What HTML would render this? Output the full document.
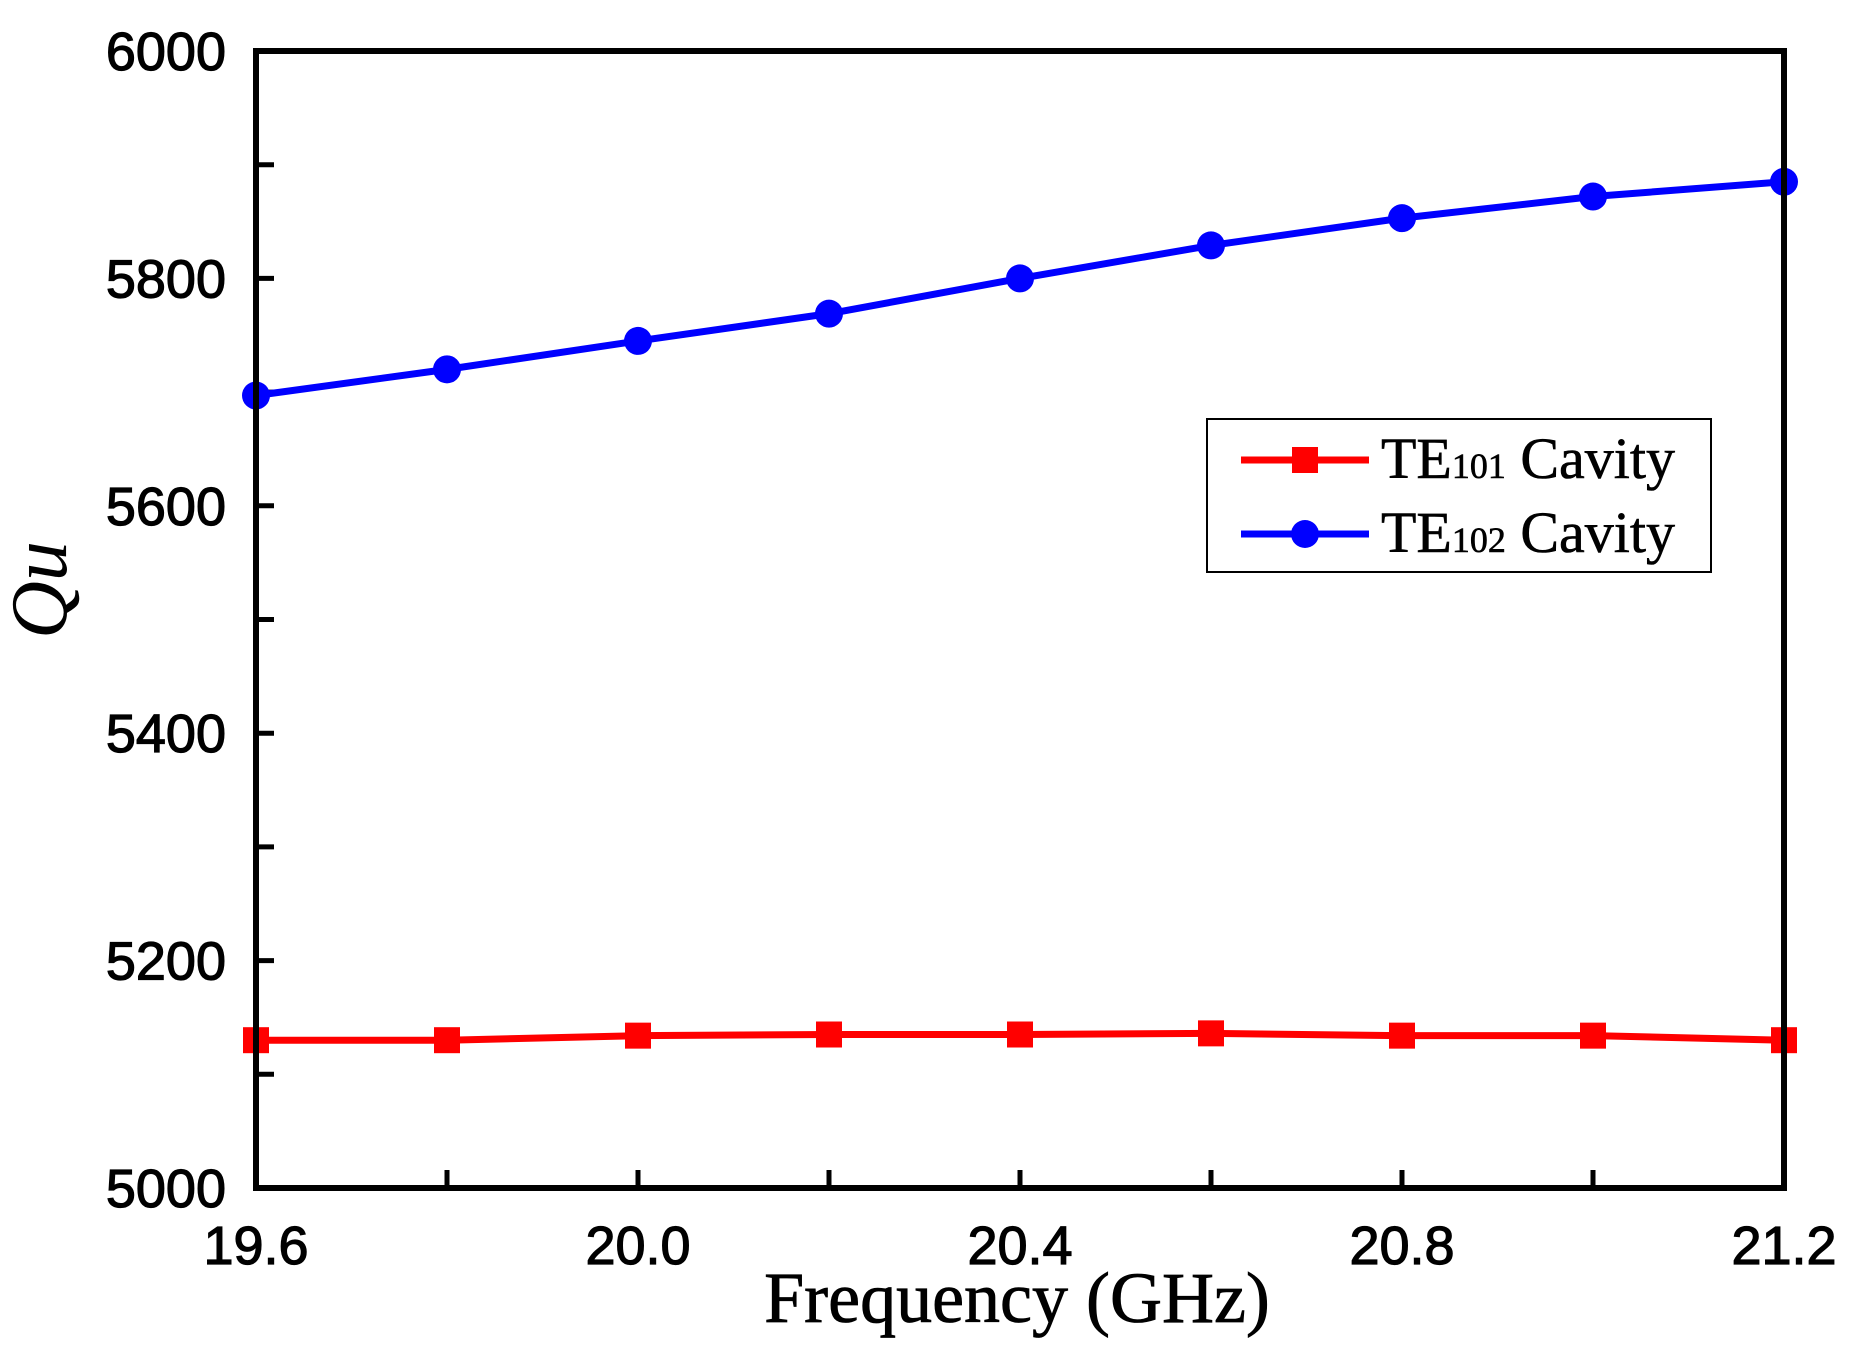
<!DOCTYPE html>
<html><head><meta charset="utf-8"><style>body{margin:0;background:#fff}svg{display:block}</style></head>
<body>
<svg id="chart" width="1850" height="1356" xmlns="http://www.w3.org/2000/svg"></svg>
<script>
const freqs=[19.6,19.8,20.0,20.2,20.4,20.6,20.8,21.0,21.2];
const te101=[5130,5130,5134,5135,5135,5136,5134,5134,5130];
const te102=[5697,5720,5745,5769,5800,5829,5853,5872,5885];
const xTicks=["19.6","20.0","20.4","20.8","21.2"];
const yTicks=["5000","5200","5400","5600","5800","6000"];
const L=256,R=1784,T=51,B=1188;
const x=v=>L+(v-19.6)/(21.2-19.6)*(R-L);
const y=v=>B-(v-5000)/1000*(B-T);
const svg=document.getElementById('chart');
const NS="http://www.w3.org/2000/svg";
function mk(tag,attrs,parent){const e=document.createElementNS(NS,tag);for(const k in attrs)e.setAttribute(k,attrs[k]);(parent||svg).appendChild(e);return e;}
for(let i=0;i<=8;i++){const xv=19.6+i*0.2;const t=mk('line',{x1:x(xv),x2:x(xv),y1:B,y2:B-18,stroke:'#000','stroke-width':5});

}
for(let i=0;i<=10;i++){const yv=5000+i*100;const t=mk('line',{x1:L,x2:L+18,y1:y(yv),y2:y(yv),stroke:'#000','stroke-width':5});

}
xTicks.forEach(s=>{const t=mk('text',{x:x(+s),y:1264,'text-anchor':'middle','font-family':'Liberation Sans, sans-serif','font-size':54,stroke:'#000','stroke-width':1.2});t.textContent=s;

});
yTicks.forEach(s=>{const t=mk('text',{x:226,y:y(+s)+19,'text-anchor':'end','font-family':'Liberation Sans, sans-serif','font-size':54,stroke:'#000','stroke-width':1.2});t.textContent=s;

});
function series(vals,color,marker,name){
 const g=mk('g',{});
 
 
 mk('polyline',{points:freqs.map((f,i)=>x(f)+','+y(vals[i])).join(' '),fill:'none',stroke:color,'stroke-width':7},g);
 freqs.forEach((f,i)=>{let m;
  if(marker==='sq')m=mk('rect',{x:x(f)-13,y:y(vals[i])-13,width:26,height:26,fill:color},g);
  else m=mk('circle',{cx:x(f),cy:y(vals[i]),r:14,fill:color},g);
  
  });
}
series(te101,'#ff0000','sq','te101-series');
series(te102,'#0000ff','ci','te102-series');
const frame=mk('rect',{x:L,y:T,width:R-L,height:B-T,fill:'none',stroke:'#000','stroke-width':6});


const xt=mk('text',{x:1017,y:1322,'text-anchor':'middle','font-family':'Liberation Serif, serif','font-size':72,stroke:'#000','stroke-width':0.8});xt.textContent='Frequency (GHz)';


const yt=mk('text',{x:0,y:0,transform:'translate(66,590) rotate(-90)','text-anchor':'middle','font-family':'Liberation Serif, serif','font-size':80,'font-style':'italic'});yt.textContent='Qu';


const lg=mk('g',{});


mk('rect',{x:1207,y:419,width:504,height:153,fill:'#fff',stroke:'#000','stroke-width':2},lg);
[[460,'#ff0000','sq','101'],[534,'#0000ff','ci','102']].forEach(([yy,c,m,sub])=>{
 const e=mk('g',{},lg);
 
 
 mk('line',{x1:1241,x2:1369,y1:yy,y2:yy,stroke:c,'stroke-width':7},e);
 if(m==='sq')mk('rect',{x:1292,y:yy-13,width:26,height:26,fill:c},e);else mk('circle',{cx:1305,cy:yy,r:14,fill:c},e);
 const t=mk('text',{x:1381,y:yy+18,'font-family':'Liberation Serif, serif','font-size':58,stroke:'#000','stroke-width':0.6,textLength:294,lengthAdjust:'spacingAndGlyphs'},e);
 t.innerHTML='TE<tspan font-size="36">'+sub+'</tspan> Cavity';
});
</script>
</body></html>
